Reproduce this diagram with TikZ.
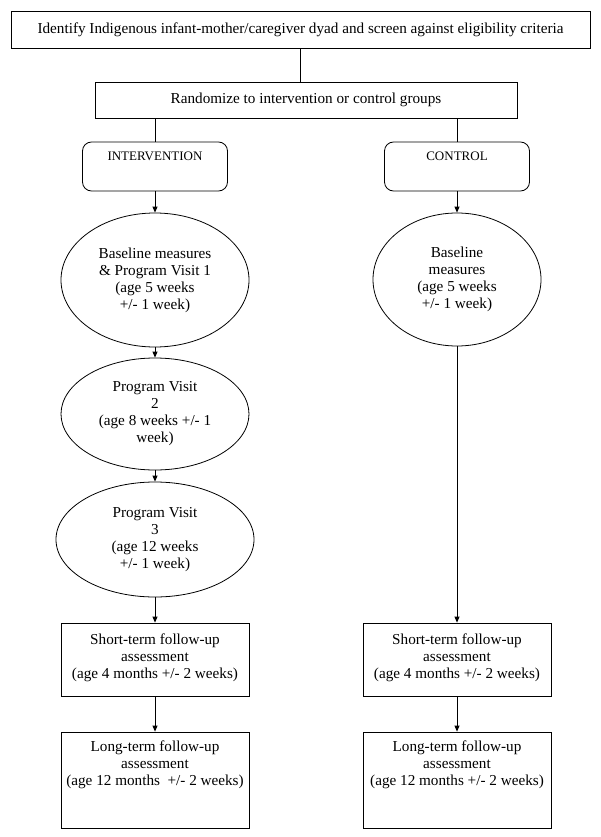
\documentclass[tikz,border=0pt]{standalone}
\usepackage{fontspec}
\setmainfont{Liberation Serif}
\usetikzlibrary{shapes.geometric,arrows.meta}
\newcommand*{\TopText}[4]{% #1 = width, #2 = height, #3 = gap above, #4 = text
\parbox[c][#2][t]{#1}{\centering\vspace*{#3}#4}%
}
\newcommand*{\FlowArrows}[1]{% #1 = list of from/to
\foreach \from/\to in {#1} {
\draw [flow] (\from) -- (\to);
}%
}

\begin{document}
\begin{tikzpicture}[x=1pt,y=-1pt,
    every node/.style={font=\fontsize{15.2}{17}\selectfont, align=center},
    box/.style={draw, line width=0.8pt, inner sep=0pt},
    arm/.style={box, rounded corners=9pt, font=\fontsize{13}{15}\selectfont},
    visit/.style={draw, ellipse, line width=0.8pt, inner sep=0pt},
    flow/.style={line width=0.8pt, -{Triangle[length=6pt,width=5pt]}}]

    \useasboundingbox (0,0) rectangle (600,837);

    % screening and randomization
    \node [box, minimum width=579pt, minimum height=37pt] (screen) at (300.5,29.5)
        {Identify Indigenous infant-mother/caregiver dyad and screen against eligibility criteria};
    \node [box, minimum width=422pt, minimum height=36pt] (random) at (306,100)
        {Randomize to intervention or control groups};
    \node [arm] (interv) at (155,166.5) {\TopText{145pt}{49pt}{10pt}{INTERVENTION}};
    \node [arm] (control) at (457,166.5) {\TopText{145pt}{49pt}{10pt}{CONTROL}};

    % visits
    \node [visit, minimum width=188pt, minimum height=134pt] (visit1) at (155,280)
        {Baseline measures\\\& Program Visit 1\\(age 5 weeks\\+/- 1 week)};
    \node [visit, minimum width=168pt, minimum height=133pt] (baseline) at (457,279.5)
        {Baseline\\measures\\(age 5 weeks\\+/- 1 week)};
    \node [visit, minimum width=188pt, minimum height=112pt] (visit2) at (155,414)
        {Program Visit\\2\\(age 8 weeks +/- 1\\week)};
    \node [visit, minimum width=198pt, minimum height=115pt] (visit3) at (155,539.5)
        {Program Visit\\3\\(age 12 weeks\\+/- 1 week)};

    % follow-up
    \node [box] (short1) at (155,659.5)
        {\TopText{188pt}{73pt}{11pt}{Short-term follow-up\\assessment\\(age 4 months +/- 2 weeks)}};
    \node [box] (short2) at (457,659.5)
        {\TopText{188pt}{73pt}{11pt}{Short-term follow-up\\assessment\\(age 4 months +/- 2 weeks)}};
    \node [box] (long1) at (155,780)
        {\TopText{188pt}{96pt}{9pt}{Long-term follow-up\\assessment\\(age 12 months~ +/- 2 weeks)}};
    \node [box] (long2) at (457,780)
        {\TopText{188pt}{96pt}{9pt}{Long-term follow-up\\assessment\\(age 12 months +/- 2 weeks)}};

    \draw [line width=0.8pt] (screen.south) -- (screen.south |- random.north);
    \draw [line width=0.8pt] (random.south -| interv) -- (interv);
    \draw [line width=0.8pt] (random.south -| control) -- (control);
    \FlowArrows{interv/visit1,visit1/visit2,visit2/visit3,visit3/short1,short1/long1,
        control/baseline,baseline/short2,short2/long2}

\end{tikzpicture}
\end{document}
